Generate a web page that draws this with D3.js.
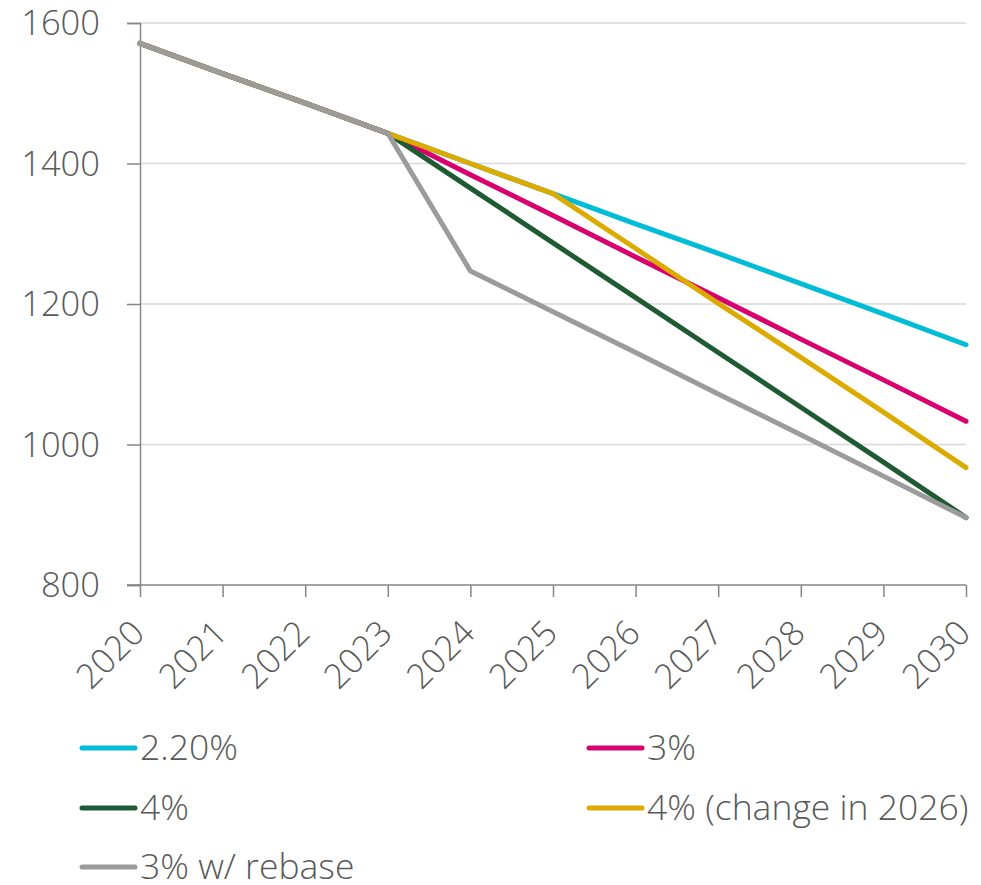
<!DOCTYPE html>
<html>
<head>
<meta charset="utf-8">
<script src="https://cdn.jsdelivr.net/npm/d3@7"></script>
<style>
  html, body { margin: 0; padding: 0; background: #ffffff; }
  svg { display: block; }
  text { font-family: "Open Sans", "Noto Sans", sans-serif; font-weight: 300; fill: #595959; }
</style>
</head>
<body>
<svg id="chart" width="981" height="885"></svg>
<script>
// Years on the x axis
const years = [2020, 2021, 2022, 2023, 2024, 2025, 2026, 2027, 2028, 2029, 2030];

// Projected values per scenario
const rate220   = [1571, 1528, 1486, 1443, 1400, 1357, 1314, 1272, 1229, 1186, 1142];
const rate3     = [1571, 1528, 1486, 1443, 1384, 1326, 1267, 1209, 1150, 1092, 1033];
const rate4     = [1571, 1528, 1486, 1443, 1365, 1287, 1209, 1131, 1053, 975, 896];
const rate4Late = [1571, 1528, 1486, 1443, 1400, 1357, 1279, 1201, 1124, 1046, 967];
const rebase3   = [1571, 1528, 1486, 1443, 1247, 1189, 1131, 1072, 1014, 955, 896];

const seriesNames = ["2.20%", "3%", "4%", "4% (change in 2026)", "3% w/ rebase"];
const seriesValues = [rate220, rate3, rate4, rate4Late, rebase3];
const seriesColors = ["#00bcd6", "#d8006f", "#1e5a32", "#ddaa00", "#9b9b9b"];

const yTicks = [800, 1000, 1200, 1400, 1600];

const AXIS_FONT = 34.5;
const LEGEND_FONT = 35.5;

const svg = d3.select("#chart");
const plot = { left: 140, right: 966, top: 23, bottom: 585 };

const x = d3.scalePoint().domain(years).range([plot.left, plot.right]);
const y = d3.scaleLinear().domain([800, 1600]).range([plot.bottom, plot.top]);

// Horizontal gridlines
svg.append("g")
  .selectAll("line")
  .data(yTicks.filter(t => t !== 800))
  .join("line")
  .attr("x1", plot.left).attr("x2", plot.right)
  .attr("y1", d => y(d)).attr("y2", d => y(d))
  .attr("stroke", "#d9d9d9").attr("stroke-width", 1.5);

// Y axis
const yAxis = svg.append("g")
  .attr("transform", `translate(${plot.left},0)`)
  .call(d3.axisLeft(y).tickValues(yTicks).tickFormat(d3.format("d")).tickSize(13));
yAxis.select(".domain").attr("stroke", "#868686").attr("stroke-width", 1.5);
yAxis.selectAll(".tick line").attr("stroke", "#868686").attr("stroke-width", 1.5);
yAxis.selectAll(".tick text")
  .attr("font-size", AXIS_FONT).attr("fill", "#595959")
  .attr("font-family", null)
  .attr("dy", "0.34em")
  .attr("x", -40);

// X axis
const xAxis = svg.append("g")
  .attr("transform", `translate(0,${plot.bottom})`)
  .call(d3.axisBottom(x).tickSize(12).tickSizeOuter(0));
xAxis.select(".domain").attr("stroke", "#868686").attr("stroke-width", 1.5)
  .attr("d", `M${plot.left - 13},0H${plot.right}`);
xAxis.selectAll(".tick line").attr("stroke", "#868686").attr("stroke-width", 1.5);
xAxis.selectAll(".tick text")
  .attr("font-size", AXIS_FONT).attr("fill", "#595959")
  .attr("font-family", null)
  .attr("text-anchor", "end")
  .attr("x", 0).attr("y", 0).attr("dy", 0)
  .attr("transform", "translate(6,50) rotate(-45)");

// Scenario lines
const line = d3.line()
  .x((d, i) => x(years[i]))
  .y(d => y(d));

svg.append("g")
  .selectAll("path")
  .data(seriesValues)
  .join("path")
  .attr("d", d => line(d))
  .attr("fill", "none")
  .attr("stroke", (d, i) => seriesColors[i])
  .attr("stroke-width", 5)
  .attr("stroke-linejoin", "round")
  .attr("stroke-linecap", "round");

// Legend in two columns
const legendCols = [82, 589];
const legendRows = [748, 808, 867];
const legend = svg.append("g")
  .selectAll("g")
  .data(seriesNames)
  .join("g")
  .attr("transform", (d, i) => `translate(${legendCols[i % 2]},${legendRows[Math.floor(i / 2)]})`);

legend.append("line")
  .attr("x1", 0).attr("x2", 53)
  .attr("y1", 0).attr("y2", 0)
  .attr("stroke", (d, i) => seriesColors[i])
  .attr("stroke-width", 5)
  .attr("stroke-linecap", "round");

legend.append("text")
  .attr("x", 58).attr("y", 0).attr("dy", "0.35em")
  .attr("font-size", LEGEND_FONT)
  .text(d => d);
</script>
</body>
</html>
